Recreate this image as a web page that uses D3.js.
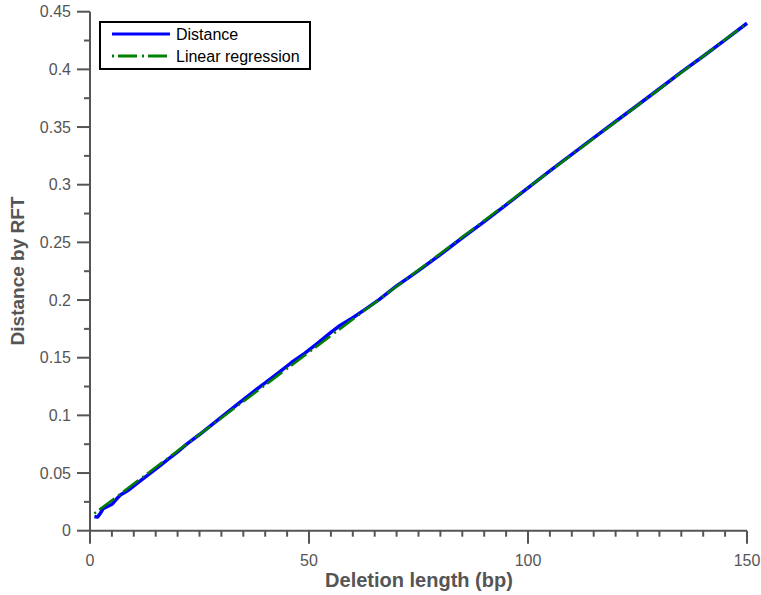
<!DOCTYPE html>
<html>
<head>
<meta charset="utf-8">
<script src="https://cdn.jsdelivr.net/npm/d3@7"></script>
<style>
  body { margin: 0; background: #fff; }
  svg { display: block; font-family: "Liberation Sans", Arial, sans-serif; }
</style>
</head>
<body>
<svg id="chart" width="761" height="595"></svg>
<script>
// deletion length (bp) and RFT distance
var lengths = [1, 1.7, 2.3, 3, 4, 5, 6, 7, 8, 9, 10, 12, 14, 16, 18, 20, 22, 25, 28, 31,
               34, 37, 40, 43, 46, 49, 52, 55, 57, 60, 63, 66, 70, 75, 80, 85, 90, 95, 100,
               105, 110, 115, 120, 125, 130, 135, 140, 145, 150];
var distances = [0.0122, 0.0118, 0.0147, 0.0192, 0.0210, 0.0229, 0.0272, 0.0311, 0.0334, 0.0358,
                 0.0388, 0.0448, 0.0505, 0.0565, 0.0624, 0.0683, 0.0748, 0.0834, 0.0925, 0.1015,
                 0.1106, 0.1196, 0.1282, 0.1369, 0.1458, 0.1538, 0.1626, 0.1720, 0.1777, 0.1847,
                 0.1923, 0.2003, 0.2122, 0.2255, 0.2395, 0.2540, 0.2680, 0.2825, 0.2973, 0.3119,
                 0.3263, 0.3406, 0.3548, 0.3689, 0.3832, 0.3976, 0.4114, 0.4256, 0.4400];
var regLengths = [1, 150];
var regDistances = [0.0150, 0.4400];

var xMajor = [0, 50, 100, 150],
    yMajor = [0, 0.05, 0.1, 0.15, 0.2, 0.25, 0.3, 0.35, 0.4, 0.45],
    yLabels = ["0", "0.05", "0.1", "0.15", "0.2", "0.25", "0.3", "0.35", "0.4", "0.45"];
var legendNames = ["Distance", "Linear regression"];

var svg = d3.select("#chart"),
    axisColor = "#555";

var x = d3.scaleLinear().domain([0, 150]).range([90, 747]),
    y = d3.scaleLinear().domain([0, 0.45]).range([530.7, 11.7]);

// minor ticks
var xMinor = d3.range(0, 151, 5).filter(function(d) { return d % 50 !== 0; }),
    yMinor = d3.range(0.025, 0.45, 0.05);

var axes = svg.append("g").attr("stroke", axisColor).attr("stroke-width", 2);

axes.append("line").attr("x1", x(0)).attr("x2", x(150)).attr("y1", y(0)).attr("y2", y(0));
axes.append("line").attr("x1", x(0)).attr("x2", x(0)).attr("y1", y(0)).attr("y2", y(0.45));

axes.selectAll(".xmaj").data(xMajor).enter().append("line")
    .attr("x1", x).attr("x2", x).attr("y1", y(0)).attr("y2", y(0) + 13);
axes.selectAll(".xmin").data(xMinor).enter().append("line")
    .attr("x1", x).attr("x2", x).attr("y1", y(0)).attr("y2", y(0) + 6);
axes.selectAll(".ymaj").data(yMajor).enter().append("line")
    .attr("x1", x(0) - 13).attr("x2", x(0)).attr("y1", y).attr("y2", y);
axes.selectAll(".ymin").data(yMinor).enter().append("line")
    .attr("x1", x(0) - 6).attr("x2", x(0)).attr("y1", y).attr("y2", y);

svg.append("g").selectAll("text").data(xMajor).enter().append("text")
    .attr("x", x).attr("y", 566)
    .attr("text-anchor", "middle").attr("fill", axisColor).attr("font-size", 16)
    .text(function(d) { return d; });

svg.append("g").selectAll("text").data(yMajor).enter().append("text")
    .attr("x", 71).attr("y", function(d) { return y(d) + 5.5; })
    .attr("text-anchor", "end").attr("fill", axisColor).attr("font-size", 16)
    .text(function(d, i) { return yLabels[i]; });

svg.append("text")
    .attr("x", 419).attr("y", 587)
    .attr("text-anchor", "middle").attr("font-weight", "bold").attr("font-size", 20)
    .attr("fill", axisColor)
    .text("Deletion length (bp)");

svg.append("text")
    .attr("transform", "translate(24,271) rotate(-90)")
    .attr("text-anchor", "middle").attr("font-weight", "bold").attr("font-size", 19)
    .attr("fill", axisColor)
    .text("Distance by RFT");

var line = d3.line()
    .x(function(d) { return x(d[0]); })
    .y(function(d) { return y(d[1]); });

svg.append("path")
    .datum(d3.zip(lengths, distances))
    .attr("fill", "none").attr("stroke", "#0000ff").attr("stroke-width", 3.5)
    .attr("stroke-linejoin", "round")
    .attr("d", line);

svg.append("path")
    .datum(d3.zip(regLengths, regDistances))
    .attr("fill", "none").attr("stroke", "#008000").attr("stroke-width", 2.5)
    .attr("stroke-dasharray", "2,4,19,5")
    .attr("d", line);

// legend
var legend = svg.append("g");
legend.append("rect")
    .attr("x", 100).attr("y", 22).attr("width", 210).attr("height", 47)
    .attr("fill", "#fff").attr("stroke", "#000").attr("stroke-width", 2);

var styles = [{color: "#0000ff", dash: null}, {color: "#008000", dash: "2,4,19,5"}];
legendNames.forEach(function(name, i) {
  var ly = 34 + i * 22;
  legend.append("line")
      .attr("x1", 112).attr("x2", 170).attr("y1", ly).attr("y2", ly)
      .attr("stroke", styles[i].color).attr("stroke-width", 3)
      .attr("stroke-dasharray", styles[i].dash);
  legend.append("text")
      .attr("x", 176).attr("y", ly + 5.5)
      .attr("font-size", 16).attr("fill", "#000")
      .text(name);
});
</script>
</body>
</html>
